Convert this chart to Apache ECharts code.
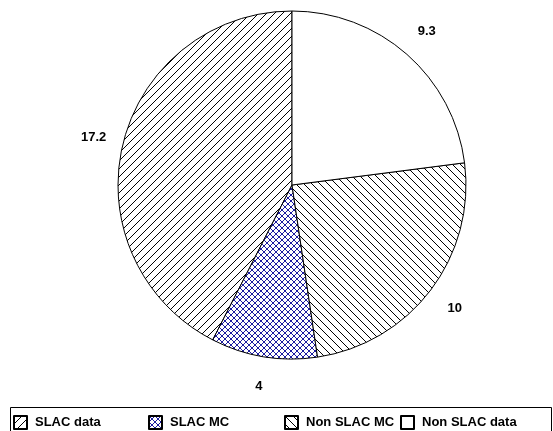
<!DOCTYPE html>
<html>
<head>
<meta charset="utf-8">
<script src="https://cdn.jsdelivr.net/npm/echarts@6/dist/echarts.min.js"></script>
<style>
  html, body { margin: 0; padding: 0; background: #fff; }
  #main { width: 553px; height: 431px; }
</style>
</head>
<body>
<div id="main"></div>
<script>
// data
var names = ['SLAC data', 'SLAC MC', 'Non SLAC MC', 'Non SLAC data'];
var values = [17.2, 4, 10, 9.3];

var cx = 292, cy = 185, radius = 174;
var font = 'Liberation Sans, Arial, sans-serif';

// hatch fills like the old excel chart
function hatch(kind, size, color) {
  var c = document.createElement('canvas');
  c.width = size; c.height = size;
  var g = c.getContext('2d');
  g.fillStyle = '#fff';
  g.fillRect(0, 0, size, size);
  g.strokeStyle = color;
  g.lineWidth = 1;
  function fwd() {
    g.beginPath();
    g.moveTo(-1, size + 1); g.lineTo(size + 1, -1);
    g.moveTo(-1, 1); g.lineTo(1, -1);
    g.moveTo(size - 1, size + 1); g.lineTo(size + 1, size - 1);
    g.stroke();
  }
  function back() {
    g.beginPath();
    g.moveTo(-1, -1); g.lineTo(size + 1, size + 1);
    g.moveTo(size - 1, -1); g.lineTo(size + 1, 1);
    g.moveTo(-1, size - 1); g.lineTo(1, size + 1);
    g.stroke();
  }
  if (kind === 'fwd' || kind === 'cross') fwd();
  if (kind === 'back' || kind === 'cross') back();
  return { image: c, repeat: 'repeat' };
}

var fills = [
  hatch('fwd', 8, '#000'),
  hatch('cross', 6, '#1c1ca0'),
  hatch('back', 8, '#000'),
  '#ffffff'
];

var total = values.reduce(function (a, b) { return a + b; }, 0);
// mid angle of each slice, counter-clockwise from 12 o'clock
function midAngle(i) {
  var before = 0;
  for (var k = 0; k < i; k++) before += values[k];
  return 2 * Math.PI * (before + values[i] / 2) / total;
}

// one legend per entry so the columns sit like the excel legend
var legendLeft = [13, 148, 284, 400];
var legends = names.map(function (n, i) {
  return {
    left: legendLeft[i],
    top: 415,
    padding: 0,
    itemWidth: 13,
    itemHeight: 13,
    selectedMode: false,
    icon: 'rect',
    data: [n],
    textStyle: {
      fontFamily: font,
      fontWeight: 'bold',
      fontSize: 13,
      color: '#000',
      padding: [0, 0, 0, 3]
    }
  };
});

var chart = echarts.init(document.getElementById('main'));
chart.setOption({
  animation: false,
  legend: legends,
  graphic: [{
    type: 'rect',
    silent: true,
    shape: { x: 10.5, y: 407.5, width: 541, height: 40 },
    style: { fill: 'none', stroke: '#000', lineWidth: 1 }
  }],
  series: [{
    type: 'pie',
    center: [cx, cy],
    radius: radius,
    startAngle: 90,
    clockwise: false,
    avoidLabelOverlap: false,
    itemStyle: { borderColor: '#000', borderWidth: 1 },
    label: {
      show: true,
      position: 'outside',
      formatter: '{c}',
      fontFamily: font,
      fontWeight: 'bold',
      fontSize: 13,
      color: '#000'
    },
    labelLine: { show: false },
    labelLayout: function (p) {
      var a = midAngle(p.dataIndex);
      var r = radius + 30;
      return {
        x: cx - r * Math.sin(a),
        y: cy - r * Math.cos(a),
        align: 'center',
        verticalAlign: 'middle'
      };
    },
    emphasis: { disabled: true },
    data: names.map(function (n, i) {
      return { name: n, value: values[i], itemStyle: { color: fills[i] } };
    })
  }]
});
</script>
</body>
</html>
